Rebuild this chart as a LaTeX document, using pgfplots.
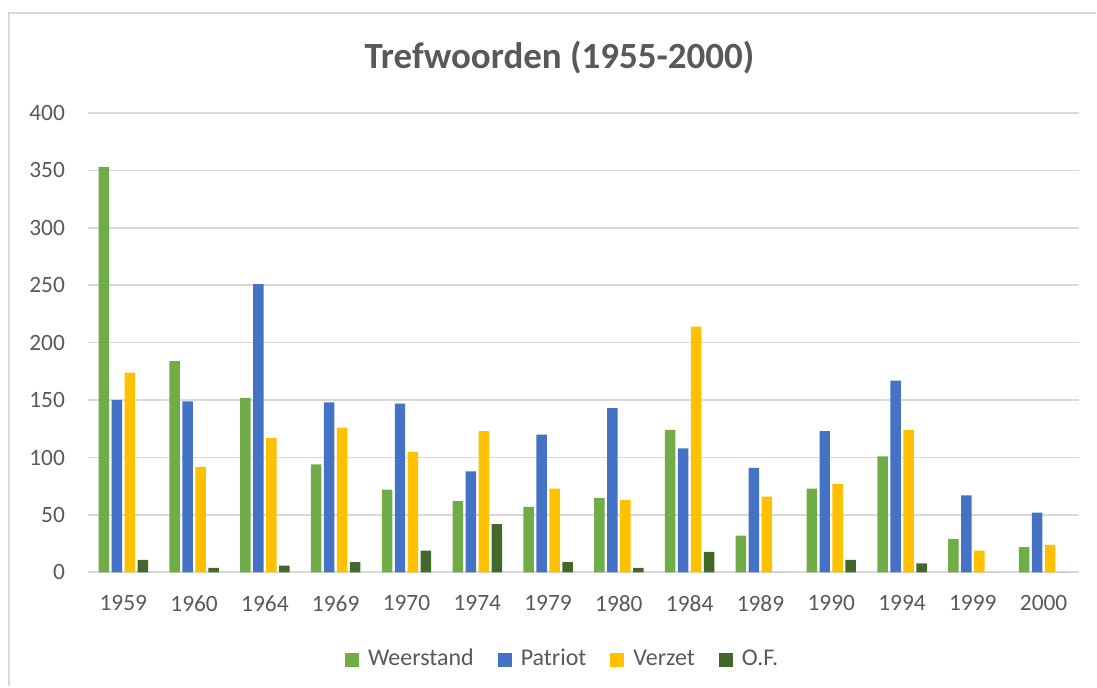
\documentclass[border=0pt]{standalone}
\usepackage{pgfplots}
\pgfplotsset{compat=1.18}
\usepackage{fontspec}
\setmainfont{Carlito}
\definecolor{cW}{HTML}{70AD47}
\definecolor{cP}{HTML}{4472C4}
\definecolor{cV}{HTML}{FFC000}
\definecolor{cO}{HTML}{43682B}
\definecolor{txt}{HTML}{595959}
\definecolor{grd}{HTML}{D9D9D9}
\begin{document}
\begin{tikzpicture}
\path (0pt,0pt) rectangle (548.5pt,343.5pt);
\draw[grd, line width=1pt] (4.75pt,0pt) -- (4.75pt,336.75pt) -- (548.5pt,336.75pt);
\node[text=txt, font=\fontsize{18.5}{22}\selectfont\bfseries] at (280pt,314.5pt) {Trefwoorden (1955-2000)};
\begin{axis}[
  at={(44pt,57pt)}, anchor=south west,
  scale only axis, width=496pt, height=230pt,
  ybar=1.25pt, bar width=5.25pt,
  xmin=-0.5, xmax=13.5, ymin=0, ymax=400,
  ytick={0,50,...,400},
  xtick={0,...,13},
  xticklabels={1959,1960,1964,1969,1970,1974,1979,1980,1984,1989,1990,1994,1999,2000},
  axis line style={draw=none},
  axis x line*=bottom, axis y line*=left,
  major tick length=0pt,
  ymajorgrids, grid style={grd, line width=0.8pt},
  ticklabel style={text=txt, font=\fontsize{11.7}{13}\selectfont},
  /pgf/number format/assume math mode=true,
  yticklabel style={xshift=-8pt},
  xticklabel style={yshift=-8pt},
  legend columns=4,
  legend style={draw=none, at={(0.48,-0.19)}, anchor=center, text=txt, font=\fontsize{12}{14}\selectfont,
    nodes={text height=0.7em, text depth=0.15em},
    /tikz/every odd column/.append style={column sep=2.5pt},
    /tikz/every even column/.append style={column sep=10pt}},
  legend image code/.code={\fill[#1] (0pt,-3.5pt) rectangle (7pt,3.5pt);},
  clip=false,
]
\draw[grd, line width=1pt] (axis cs:-0.5,0) -- (axis cs:13.5,0);
\addplot[fill=cW, draw=none] coordinates {(0,353) (1,184) (2,152) (3,94) (4,72) (5,62) (6,57) (7,65) (8,124) (9,32) (10,73) (11,101) (12,29) (13,22)};
\addplot[fill=cP, draw=none] coordinates {(0,150) (1,149) (2,251) (3,148) (4,147) (5,88) (6,120) (7,143) (8,108) (9,91) (10,123) (11,167) (12,67) (13,52)};
\addplot[fill=cV, draw=none] coordinates {(0,174) (1,92) (2,117) (3,126) (4,105) (5,123) (6,73) (7,63) (8,214) (9,66) (10,77) (11,124) (12,19) (13,24)};
\addplot[fill=cO, draw=none] coordinates {(0,11) (1,4) (2,6) (3,9) (4,19) (5,42) (6,9) (7,4) (8,18) (9,0) (10,11) (11,8) (12,0) (13,0)};
\legend{Weerstand, Patriot, Verzet, O.F.}
\end{axis}
\end{tikzpicture}
\end{document}
